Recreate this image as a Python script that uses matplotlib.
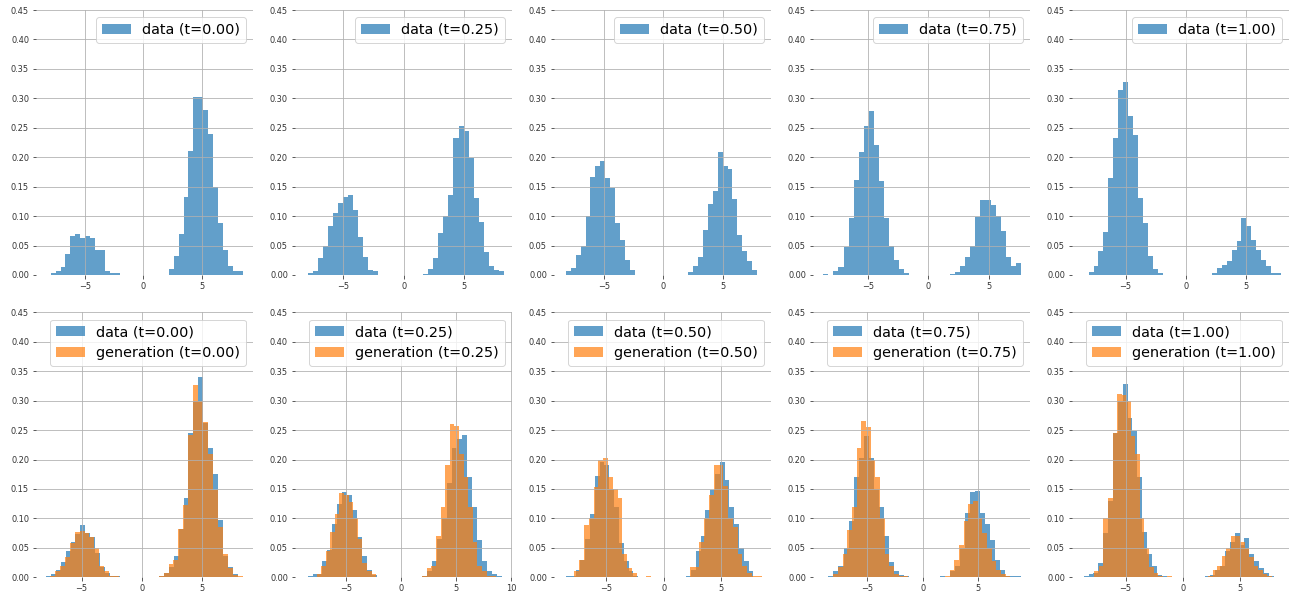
import numpy as np
import matplotlib
matplotlib.use("Agg")
import matplotlib.pyplot as plt
from matplotlib.ticker import MultipleLocator

# ---------------- data (density histograms, 39 bins each) ----------------
times = [0.00, 0.25, 0.50, 0.75, 1.00]

# top row: data only
top_ranges = [(-7.94, 8.51), (-7.93, 8.29), (-8.18, 7.87), (-8.68, 7.66), (-8.07, 7.87)]
top_t000 = [0.004, 0.007, 0.014, 0.036, 0.067, 0.070, 0.063, 0.067, 0.063, 0.042, 0.042, 0.007, 0.004, 0.004,
            0, 0, 0, 0, 0, 0, 0, 0, 0, 0,
            0.010, 0.033, 0.070, 0.132, 0.210, 0.303, 0.303, 0.281, 0.240, 0.150, 0.088, 0.043, 0.015, 0.006, 0.006]
top_t025 = [0.003, 0.007, 0.028, 0.049, 0.083, 0.105, 0.122, 0.133, 0.135, 0.110, 0.064, 0.031, 0.009, 0.006,
            0, 0, 0, 0, 0, 0, 0, 0, 0,
            0.002, 0.010, 0.028, 0.071, 0.100, 0.136, 0.232, 0.253, 0.245, 0.198, 0.131, 0.090, 0.039, 0.015, 0.008, 0.006]
top_t050 = [0.006, 0.011, 0.034, 0.049, 0.100, 0.167, 0.185, 0.194, 0.165, 0.148, 0.088, 0.059, 0.026, 0.009,
            0, 0, 0, 0, 0, 0, 0, 0, 0, 0, 0,
            0.005, 0.015, 0.030, 0.077, 0.121, 0.142, 0.208, 0.185, 0.180, 0.129, 0.068, 0.041, 0.023, 0.009]
top_t075 = [0.002, 0.000, 0.006, 0.013, 0.047, 0.097, 0.162, 0.209, 0.253, 0.279, 0.221, 0.160, 0.096, 0.049, 0.026, 0.010, 0.004,
            0, 0, 0, 0, 0, 0, 0, 0,
            0.002, 0.005, 0.015, 0.030, 0.049, 0.098, 0.127, 0.127, 0.119, 0.100, 0.075, 0.031, 0.015, 0.021]
top_t100 = [0.0045, 0.015, 0.040, 0.073, 0.165, 0.233, 0.314, 0.327, 0.270, 0.238, 0.131, 0.089, 0.033, 0.010, 0.004,
            0, 0, 0, 0, 0, 0, 0, 0, 0, 0,
            0.004, 0.011, 0.017, 0.024, 0.042, 0.057, 0.096, 0.084, 0.060, 0.042, 0.026, 0.015, 0.004, 0.004]
top_heights = [top_t000, top_t025, top_t050, top_t075, top_t100]

# bottom row: data vs generation
bot_data_ranges = [(-7.97, 8.00), (-8.49, 9.10), (-8.49, 7.80), (-8.95, 8.83), (-8.68, 7.98)]
bot_gen_ranges = [(-7.64, 8.42), (-7.68, 8.58), (-7.77, 8.52), (-8.05, 8.32), (-7.75, 7.84)]

bot_data_t000 = [0.002, 0.005, 0.012, 0.026, 0.044, 0.060, 0.074, 0.089, 0.075, 0.069, 0.042, 0.017, 0.008, 0.002, 0.002,
                 0, 0, 0, 0, 0, 0, 0, 0,
                 0.002, 0.008, 0.018, 0.037, 0.082, 0.134, 0.245, 0.300, 0.340, 0.262, 0.220, 0.175, 0.097, 0.037, 0.017, 0.005]
bot_gen_t000 = [0.003, 0.010, 0.020, 0.035, 0.058, 0.077, 0.078, 0.075, 0.068, 0.050, 0.020, 0.010, 0.002, 0.002,
                0, 0, 0, 0, 0, 0, 0, 0,
                0.003, 0.008, 0.022, 0.030, 0.082, 0.123, 0.242, 0.327, 0.300, 0.263, 0.210, 0.149, 0.086, 0.040, 0.015, 0.004, 0.002]
bot_data_t025 = [0.002, 0.006, 0.006, 0.027, 0.047, 0.090, 0.125, 0.145, 0.140, 0.115, 0.068, 0.037, 0.012, 0.004, 0.001,
                 0, 0, 0, 0, 0, 0, 0, 0,
                 0.003, 0.010, 0.028, 0.065, 0.101, 0.160, 0.220, 0.235, 0.242, 0.170, 0.120, 0.063, 0.028, 0.011, 0.005, 0.002]
bot_gen_t025 = [0.006, 0.020, 0.045, 0.077, 0.108, 0.143, 0.140, 0.128, 0.100, 0.065, 0.025, 0.010, 0.005, 0.001,
                0, 0, 0, 0, 0, 0, 0, 0, 0,
                0.003, 0.015, 0.020, 0.070, 0.120, 0.190, 0.260, 0.257, 0.210, 0.170, 0.120, 0.060, 0.020, 0.010, 0.003, 0.002]
bot_data_t050 = [0.002, 0.002, 0.012, 0.030, 0.065, 0.108, 0.172, 0.195, 0.190, 0.150, 0.120, 0.059, 0.027, 0.010, 0.003,
                 0, 0, 0, 0, 0, 0, 0, 0, 0, 0,
                 0.002, 0.012, 0.045, 0.070, 0.115, 0.148, 0.175, 0.195, 0.165, 0.120, 0.090, 0.050, 0.027, 0.010]
bot_gen_t050 = [0.010, 0.030, 0.088, 0.100, 0.153, 0.200, 0.202, 0.170, 0.150, 0.135, 0.040, 0.015, 0.008, 0.001, 0.000, 0.002,
                0, 0, 0, 0, 0, 0, 0,
                0.001, 0.018, 0.018, 0.060, 0.100, 0.140, 0.190, 0.190, 0.155, 0.100, 0.085, 0.040, 0.020, 0.008, 0.002, 0.002]
bot_data_t075 = [0.001, 0.003, 0.010, 0.020, 0.050, 0.095, 0.170, 0.203, 0.240, 0.203, 0.150, 0.120, 0.070, 0.026, 0.010, 0.004, 0.002,
                 0, 0, 0, 0, 0, 0,
                 0.002, 0.000, 0.010, 0.020, 0.050, 0.110, 0.145, 0.147, 0.110, 0.090, 0.063, 0.030, 0.013, 0.003, 0.003, 0.003]
bot_gen_t075 = [0.006, 0.018, 0.040, 0.080, 0.120, 0.220, 0.265, 0.255, 0.200, 0.170, 0.100, 0.040, 0.020, 0.006, 0.002, 0.002, 0.000,
                0, 0, 0, 0, 0, 0, 0,
                0.002, 0.012, 0.030, 0.055, 0.095, 0.125, 0.130, 0.100, 0.075, 0.050, 0.027, 0.013, 0.006, 0.002, 0.001]
bot_data_t100 = [0.002, 0.005, 0.008, 0.025, 0.075, 0.130, 0.245, 0.300, 0.328, 0.270, 0.249, 0.170, 0.077, 0.040, 0.019, 0.004, 0.002,
                 0, 0, 0, 0, 0, 0, 0, 0,
                 0.002, 0.004, 0.012, 0.020, 0.045, 0.060, 0.075, 0.055, 0.067, 0.040, 0.027, 0.015, 0.008, 0.002]
bot_gen_t100 = [0.010, 0.020, 0.100, 0.135, 0.245, 0.312, 0.310, 0.300, 0.240, 0.210, 0.100, 0.050, 0.017, 0.008, 0.002, 0.000, 0.003,
                0, 0, 0, 0, 0, 0, 0, 0,
                0.003, 0.012, 0.020, 0.037, 0.050, 0.070, 0.070, 0.060, 0.050, 0.035, 0.020, 0.012, 0.005, 0.002]
bot_data_heights = [bot_data_t000, bot_data_t025, bot_data_t050, bot_data_t075, bot_data_t100]
bot_gen_heights = [bot_gen_t000, bot_gen_t025, bot_gen_t050, bot_gen_t075, bot_gen_t100]

# axis limits
top_xlims = [(-9.2, 9.4), (-9.0, 8.98), (-9.19, 9.05), (-9.53, 8.4), (-9.45, 8.54)]
bot_xlims = [(-8.8, 9.28), (-9.63, 10.05), (-9.54, 9.33), (-9.88, 9.67), (-9.71, 9.33)]
y_max = 0.45

# ---------------- drawing ----------------
W, H, DPI = 1296, 597, 72
fig, axes = plt.subplots(2, 5, figsize=(W / DPI, H / DPI), dpi=DPI)
fig.subplots_adjust(left=36 / W, right=1289 / W, bottom=1 - 577.3 / H, top=1 - 10 / H,
                    wspace=0.1935, hspace=0.141)


def draw_hist(ax, rng, heights, color, label):
    edges = np.linspace(rng[0], rng[1], len(heights) + 1)
    centers = 0.5 * (edges[:-1] + edges[1:])
    ax.hist(centers, bins=edges, weights=heights, alpha=0.7, color=color, label=label)


def style(ax, xlim):
    ax.set_xlim(*xlim)
    ax.set_ylim(0, y_max)
    ax.yaxis.set_major_locator(MultipleLocator(0.05))
    ax.xaxis.set_major_locator(MultipleLocator(5))
    ax.grid(True, color="#b0b0b0", linewidth=0.8)
    for s in ax.spines.values():
        s.set_visible(False)
    ax.tick_params(labelsize=8.3, colors="#333333")


for i, t in enumerate(times):
    ax = axes[0, i]
    draw_hist(ax, top_ranges[i], top_heights[i], "tab:blue", f"data (t={t:.2f})")
    style(ax, top_xlims[i])
    ax.legend(loc="upper right", fontsize=14.4)

    ax = axes[1, i]
    draw_hist(ax, bot_data_ranges[i], bot_data_heights[i], "tab:blue", f"data (t={t:.2f})")
    draw_hist(ax, bot_gen_ranges[i], bot_gen_heights[i], "tab:orange", f"generation (t={t:.2f})")
    style(ax, bot_xlims[i])
    ax.legend(loc="upper right", fontsize=14.4)

fig.savefig("out.png", dpi=DPI)
